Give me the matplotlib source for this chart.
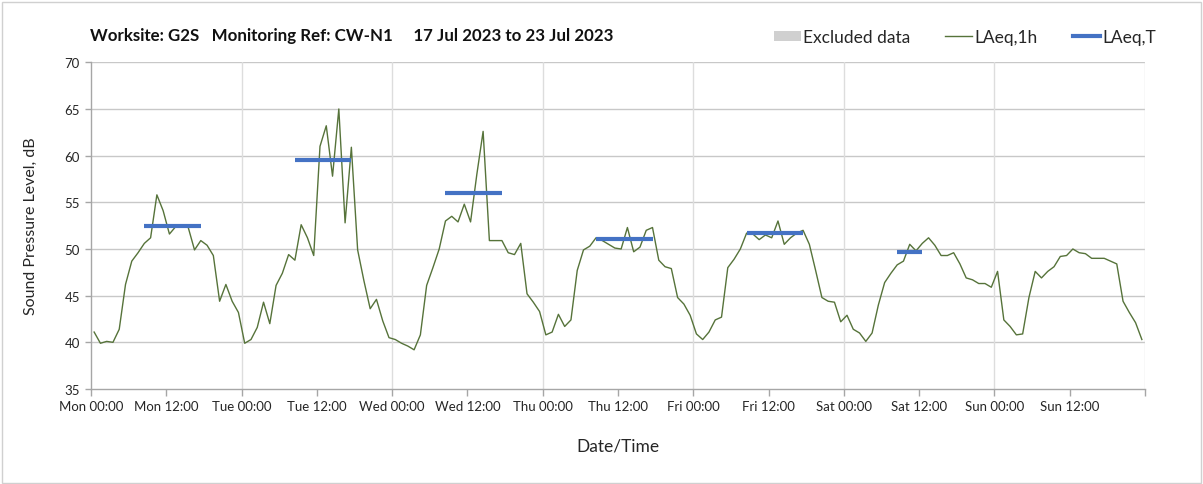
import matplotlib
matplotlib.use("Agg")
import matplotlib.pyplot as plt
from matplotlib.patches import Patch, Rectangle
from matplotlib.lines import Line2D
import numpy as np

plt.rcParams['font.family'] = ['Lato', 'DejaVu Sans']

# Hourly LAeq,1h values (Mon 00:00 .. Sun 23:00)
laeq_1h = [
    41.1, 39.9, 40.1, 40.0, 41.4, 46.2, 48.7, 49.6, 50.6, 51.2, 55.8, 54.1,
    51.6, 52.4, 52.5, 52.3, 49.9, 50.9, 50.4, 49.3, 44.4, 46.2, 44.4, 43.2,
    39.9, 40.3, 41.6, 44.3, 42.0, 46.1, 47.4, 49.4, 48.8, 52.6, 51.2, 49.3,
    61.0, 63.2, 57.8, 65.0, 52.8, 60.9, 49.9, 46.6, 43.6, 44.6, 42.3, 40.5,
    40.3, 39.9, 39.6, 39.2, 40.8, 46.1, 48.0, 50.0, 53.0, 53.5, 52.9, 54.8,
    52.9, 58.0, 62.6, 50.9, 50.9, 50.9, 49.6, 49.4, 50.6, 45.2, 44.3, 43.3,
    40.8, 41.1, 43.0, 41.7, 42.4, 47.7, 49.9, 50.3, 51.2, 50.9, 50.5, 50.1,
    50.0, 52.3, 49.7, 50.2, 52.0, 52.3, 48.8, 48.1, 47.9, 44.8, 44.1, 42.9,
    40.9, 40.3, 41.1, 42.4, 42.7, 48.0, 48.9, 50.0, 51.7, 51.6, 51.0, 51.5,
    51.2, 53.0, 50.5, 51.2, 51.7, 52.0, 50.5, 47.7, 44.8, 44.4, 44.3, 42.2,
    42.9, 41.4, 41.0, 40.1, 41.0, 44.0, 46.4, 47.4, 48.3, 48.7, 50.5, 49.8,
    50.6, 51.2, 50.4, 49.3, 49.3, 49.6, 48.4, 46.9, 46.7, 46.3, 46.3, 45.9,
    47.6, 42.4, 41.7, 40.8, 40.9, 44.8, 47.6, 46.9, 47.6, 48.1, 49.2, 49.3,
    50.0, 49.6, 49.5, 49.0, 49.0, 49.0, 48.7, 48.4, 44.4, 43.2, 42.1, 40.3,
]

# LAeq,T periods: start hour index, end hour index, level
period_start = [8, 32, 56, 80, 104, 128]
period_end = [17, 41, 65, 89, 113, 132]
period_level = [52.5, 59.5, 56.0, 51.1, 51.7, 49.7]

tick_labels = ['Mon 00:00', 'Mon 12:00', 'Tue 00:00', 'Tue 12:00', 'Wed 00:00',
               'Wed 12:00', 'Thu 00:00', 'Thu 12:00', 'Fri 00:00', 'Fri 12:00',
               'Sat 00:00', 'Sat 12:00', 'Sun 00:00', 'Sun 12:00', '']

title_text = "Worksite: G2S   Monitoring Ref: CW-N1     17 Jul 2023 to 23 Jul 2023"

green = '#56733A'
blue = '#4472C4'

fig = plt.figure(figsize=(12.03, 4.85), dpi=100)
ax = fig.add_axes([91/1203, 1-390/485, (1145-91)/1203, (390-63.3)/485])

hours = np.arange(len(laeq_1h)) + 0.5
ax.plot(hours, laeq_1h, color=green, lw=1.0, zorder=3)
for s, e, v in zip(period_start, period_end, period_level):
    ax.plot([s + 0.5, e + 0.5], [v, v], color=blue, lw=3.0, solid_capstyle='butt', zorder=4)

ax.set_xlim(0, 168)
ax.set_ylim(35, 70)
ax.set_yticks(np.arange(35, 71, 5))
ax.set_xticks(np.arange(0, 169, 12))
ax.set_xticklabels(tick_labels)

# grid
for y in range(40, 71, 5):
    ax.axhline(y, color='#C8C8C8', lw=1.0, zorder=1)
for d in range(24, 169, 24):
    ax.axvline(d, color='#DDDDDD', lw=1.0, zorder=1)

for side in ['top', 'right']:
    ax.spines[side].set_visible(False)
for side in ['left', 'bottom']:
    ax.spines[side].set_color('#A6A6A6')
    ax.spines[side].set_linewidth(1.0)

ax.tick_params(axis='x', direction='out', length=5, width=1, color='#A6A6A6',
               labelsize=9.5, labelcolor='#262626', pad=3)
ax.tick_params(axis='y', direction='out', length=4, width=1, color='#A6A6A6',
               labelsize=9.5, labelcolor='#262626', pad=4)

ax.set_ylabel('Sound Pressure Level, dB', fontsize=11.5, color='#262626', labelpad=19)
ax.set_xlabel('Date/Time', fontsize=12.5, color='#262626', labelpad=18)

fig.text(90/1203, 1-36/485, title_text, fontsize=12.2, fontweight='bold',
         color='#111111', ha='left', va='center')

handles = [Patch(facecolor='#D0D0D0', edgecolor='none'),
           Line2D([], [], color=green, lw=1.0),
           Line2D([], [], color=blue, lw=3.0)]
labels = ['Excluded data', 'LAeq,1h', 'LAeq,T']
fig.legend(handles, labels, loc='center right', bbox_to_anchor=(1156/1203, 1-38/485),
           ncol=3, frameon=False, fontsize=12.5, handlelength=1.55, handleheight=0.5,
           handletextpad=0.15, columnspacing=2.0, labelcolor='#262626', borderaxespad=0,
           borderpad=0)

fig.patches.append(Rectangle((2/1203, 1/485), 1199/1203, 481/485, transform=fig.transFigure,
                             fill=False, edgecolor='#D0D0D0', lw=1.0))

fig.savefig('out.png', dpi=100)
